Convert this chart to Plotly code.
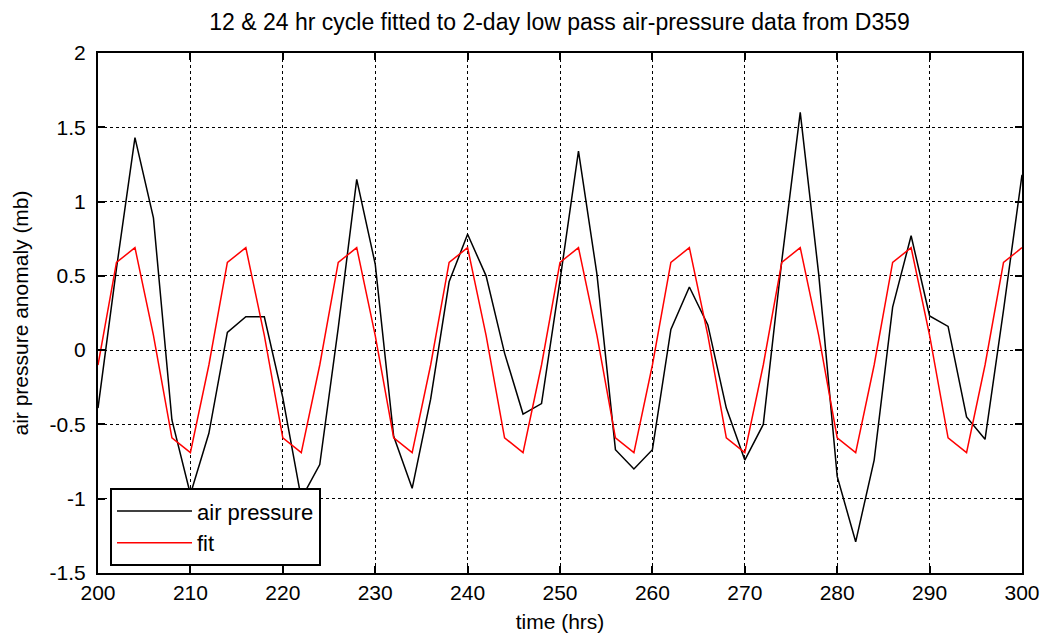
import plotly.graph_objects as go

time_hrs = list(range(200, 302, 2))

air_pressure = [
    -0.39, 0.55, 1.43, 0.89, -0.47, -0.97, -0.56, 0.12, 0.225, 0.225,
    -0.32, -1.0, -0.77, 0.15, 1.15, 0.58, -0.58, -0.93, -0.33, 0.46,
    0.78, 0.5, -0.02, -0.43, -0.36, 0.47, 1.34, 0.51, -0.67, -0.8,
    -0.67, 0.14, 0.425, 0.17, -0.39, -0.74, -0.5, 0.6, 1.6, 0.51,
    -0.85, -1.29, -0.74, 0.29, 0.77, 0.23, 0.16, -0.45, -0.6, 0.27,
    1.18,
]

fit = [
    -0.1, 0.59, 0.69, 0.1, -0.59, -0.69,
    -0.1, 0.59, 0.69, 0.1, -0.59, -0.69,
    -0.1, 0.59, 0.69, 0.1, -0.59, -0.69,
    -0.1, 0.59, 0.69, 0.1, -0.59, -0.69,
    -0.1, 0.59, 0.69, 0.1, -0.59, -0.69,
    -0.1, 0.59, 0.69, 0.1, -0.59, -0.69,
    -0.1, 0.59, 0.69, 0.1, -0.59, -0.69,
    -0.1, 0.59, 0.69, 0.1, -0.59, -0.69,
    -0.1, 0.59, 0.69,
]

x_ticks = [200, 210, 220, 230, 240, 250, 260, 270, 280, 290, 300]
y_ticks = [-1.5, -1, -0.5, 0, 0.5, 1, 1.5, 2]
y_tick_text = ["-1.5", "-1", "-0.5", "0", "0.5", "1", "1.5", "2"]

FONT = "Liberation Sans"

fig = go.Figure()
fig.add_trace(go.Scatter(x=time_hrs, y=air_pressure, mode="lines", name="air pressure",
                         line=dict(color="black", width=1.5)))
fig.add_trace(go.Scatter(x=time_hrs, y=fit, mode="lines", name="fit",
                         line=dict(color="red", width=1.5)))

axis_common = dict(
    showline=True, linecolor="black", linewidth=2, mirror="ticks",
    ticks="inside", ticklen=7, tickwidth=1.5, tickcolor="black",
    showgrid=True, gridcolor="black", gridwidth=1, griddash="dot",
    zeroline=False, automargin=False,
    tickfont=dict(family=FONT, size=21, color="black"),
)

fig.update_xaxes(range=[200, 300], tickvals=x_ticks,
                 title=dict(text="time (hrs)", font=dict(family=FONT, size=21, color="black")),
                 **axis_common)
fig.update_yaxes(range=[-1.5, 2], tickvals=y_ticks, ticktext=y_tick_text,
                 ticklabelstandoff=6,
                 title=dict(text="air pressure anomaly (mb)", font=dict(family=FONT, size=21, color="black")),
                 **axis_common)

fig.update_layout(
    width=1042, height=633,
    margin=dict(l=98, r=20, t=53, b=60, autoexpand=False),
    paper_bgcolor="white", plot_bgcolor="white",
    title=dict(text="12 &amp; 24 hr cycle fitted to 2-day low pass air-pressure data from D359",
               x=0.537, xanchor="center", y=0.965, yanchor="middle",
               font=dict(family=FONT, size=23, color="black")),
    showlegend=True,
    legend=dict(x=0.013, y=0.163, xanchor="left", yanchor="top",
                bgcolor="white", bordercolor="black", borderwidth=2,
                font=dict(family=FONT, size=22, color="black"),
                itemwidth=75, tracegroupgap=0),
)

fig.write_html("out.html")
